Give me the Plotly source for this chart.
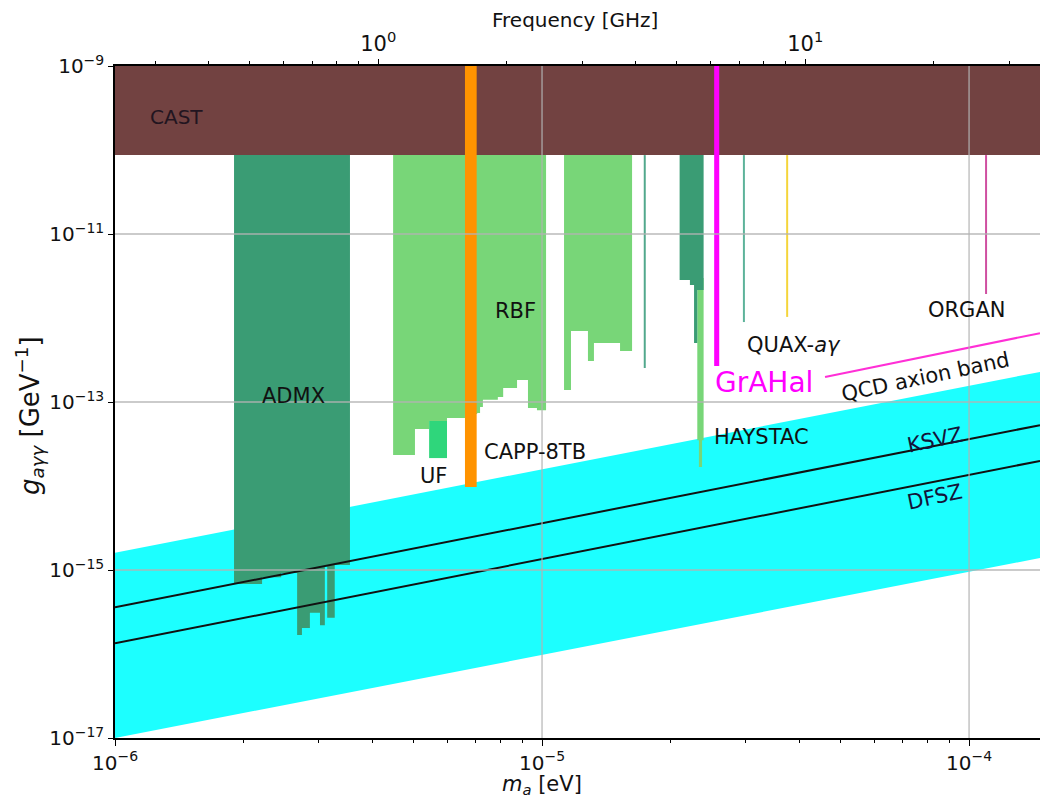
import numpy as np
import plotly.graph_objects as go

# ---------------- data ----------------
# axis ranges
m_min, m_max = 1e-6, 1.466e-4           # eV
g_min, g_max = 1e-17, 1e-9              # GeV^-1
ev_to_ghz = 2.418e5                      # f[GHz] = m[eV] * 2.418e5

# CAST limit
cast_g = 8.7e-11

# QCD axion band edges and model lines (straight in log-log)
band_m = [1e-6, 1.466e-4]
band_upper = [1.6e-15, 2.28e-13]
band_lower = [1.0e-17, 1.39e-15]
ksvz_g = [3.6e-16, 5.3e-14]
dfsz_g = [1.34e-16, 1.99e-14]

# ADMX (step limit)
admx_edges = [1.90e-6, 2.21e-6, 2.45e-6, 2.67e-6, 2.74e-6, 2.86e-6, 3.02e-6,
              3.10e-6, 3.14e-6, 3.27e-6, 3.55e-6]
admx_g = [6.8e-16, 8.2e-16, 9.2e-16, 1.68e-16, 2.04e-16, 3.1e-16, 2.2e-16,
          1.1e-15, 2.7e-16, 1.15e-15]

# RBF (two blocks)
rbf1_edges = [4.48e-6, 5.04e-6, 5.44e-6, 5.99e-6, 6.60e-6, 7.05e-6, 7.16e-6,
              7.27e-6, 7.88e-6, 8.11e-6, 8.74e-6, 9.27e-6, 9.73e-6, 1.022e-5]
rbf1_g = [2.34e-14, 4.77e-14, 5.94e-14, 6.45e-14, 7.2e-14, 7.4e-14, 8.7e-14,
          1.06e-13, 1.15e-13, 1.47e-13, 1.83e-13, 8.5e-14, 8.0e-14]
rbf2_edges = [1.126e-5, 1.169e-5, 1.281e-5, 1.323e-5, 1.523e-5, 1.625e-5]
rbf2_g = [1.39e-13, 7.0e-13, 3.08e-13, 5.04e-13, 4.05e-13]

# UF
uf_m = [5.44e-6, 5.99e-6]
uf_top, uf_bottom = 5.94e-14, 2.15e-14

# CAPP-8TB
capp_m = [6.60e-6, 7.03e-6]
capp_g = 9.7e-15

# HAYSTAC
hay_dark_edges = [2.10e-5, 2.22e-5, 2.27e-5, 2.31e-5, 2.39e-5]
hay_dark_g = [2.83e-12, 2.47e-12, 5.04e-13, 2.15e-12]
hay_light_edges = [2.31e-5, 2.33e-5, 2.37e-5, 2.39e-5]
hay_light_g = [3.5e-14, 1.68e-14, 3.5e-14]

# GrAHal
grahal_m = [2.53e-5, 2.60e-5]
grahal_g = 2.68e-13
grahal_link_m = [4.60e-5, 1.466e-4]
grahal_link_g = [1.99e-13, 6.6e-13]

# thin single-mass exclusions: (mass, lowest g, colour)
thin_m = [1.74e-5, 2.97e-5, 3.75e-5, 1.096e-4]
thin_g = [2.54e-13, 8.95e-13, 1.03e-12, 1.93e-12]
thin_col = ["#52A88C", "#5DB39A", "#F5D53A", "#CF4FA0"]

# ticks
x_ticks = [1e-6, 1e-5, 1e-4]
x_ticktext = ["10<sup>\u22126</sup>", "10<sup>\u22125</sup>", "10<sup>\u22124</sup>"]
y_ticks = [1e-17, 1e-15, 1e-13, 1e-11, 1e-9]
y_ticktext = ["10<sup>\u221217</sup>", "10<sup>\u221215</sup>", "10<sup>\u221213</sup>",
              "10<sup>\u221211</sup>", "10<sup>\u22129</sup>"]
f_ticks = [1, 10]
f_ticktext = ["10<sup>0</sup>", "10<sup>1</sup>"]

# colours
C_CAST = "#724241"
C_ADMX = "#3A9C74"
C_RBF = "#78D678"
C_UF = "#2FD67B"
C_CAPP = "#FF9300"
C_CYAN = "#1CFFFF"
C_MAG = "#FF00FF"
C_GRID = "#B3B3B3"
FONT = "DejaVu Sans"

# ---------------- helpers ----------------
def step_poly(edges, bottoms, top):
    xs, ys = [edges[0]], [top]
    for i, b in enumerate(bottoms):
        xs += [edges[i], edges[i + 1]]
        ys += [b, b]
    xs += [edges[-1], edges[0]]
    ys += [top, top]
    return xs, ys


def fill(fig, xs, ys, color):
    fig.add_trace(go.Scatter(x=xs, y=ys, mode="lines", fill="toself",
                             fillcolor=color, line=dict(width=0, color=color),
                             hoverinfo="skip", showlegend=False))


fig = go.Figure()

# QCD band
fill(fig, band_m + band_m[::-1], band_upper + band_lower[::-1], C_CYAN)

# CAST
fill(fig, [m_min, m_max * 1.05, m_max * 1.05, m_min], [g_max, g_max, cast_g, cast_g], C_CAST)

# RBF blocks
fill(fig, *step_poly(rbf1_edges, rbf1_g, cast_g), C_RBF)
fill(fig, *step_poly(rbf2_edges, rbf2_g, cast_g), C_RBF)
# UF
fill(fig, *step_poly(uf_m, [uf_bottom], uf_top), C_UF)
# HAYSTAC light spike then dark block
fill(fig, *step_poly(hay_light_edges, hay_light_g, 3e-12), C_RBF)
fill(fig, *step_poly(hay_dark_edges, hay_dark_g, cast_g), C_ADMX)
# ADMX
fill(fig, *step_poly(admx_edges, admx_g, cast_g), C_ADMX)
# CAPP-8TB
fill(fig, *step_poly(capp_m, [capp_g], g_max), C_CAPP)
# GrAHal
fill(fig, *step_poly(grahal_m, [grahal_g], g_max), C_MAG)

# thin lines
for m, g, c in zip(thin_m, thin_g, thin_col):
    fig.add_trace(go.Scatter(x=[m, m], y=[g, cast_g], mode="lines",
                             line=dict(color=c, width=2), hoverinfo="skip",
                             showlegend=False))

# model lines
for gl in (ksvz_g, dfsz_g):
    fig.add_trace(go.Scatter(x=band_m, y=gl, mode="lines",
                             line=dict(color="#111111", width=2),
                             hoverinfo="skip", showlegend=False))

# GrAHal link line
fig.add_trace(go.Scatter(x=grahal_link_m, y=grahal_link_g, mode="lines",
                         line=dict(color="#FF2FD6", width=2), hoverinfo="skip",
                         showlegend=False))

# grid lines (drawn on top, as in the reference)
for xv in x_ticks[1:]:
    fig.add_trace(go.Scatter(x=[xv, xv], y=[g_min, g_max], mode="lines",
                             line=dict(color=C_GRID, width=1.3), hoverinfo="skip",
                             showlegend=False, opacity=0.9))
for yv in y_ticks[1:-1]:
    fig.add_trace(go.Scatter(x=[m_min, m_max], y=[yv, yv], mode="lines",
                             line=dict(color=C_GRID, width=1.3), hoverinfo="skip",
                             showlegend=False, opacity=0.9))

# invisible trace for the top frequency axis
fig.add_trace(go.Scatter(x=[m_min * ev_to_ghz, m_max * ev_to_ghz], y=[g_min, g_min],
                         xaxis="x2", mode="markers", marker=dict(opacity=0),
                         hoverinfo="skip", showlegend=False))

# ---------------- labels ----------------
def lab(text, m, g, size=21, color="#111111", xanchor="center", angle=0):
    fig.add_annotation(x=np.log10(m), y=np.log10(g), xref="x", yref="y",
                       text=text, showarrow=False, xanchor=xanchor, yanchor="middle",
                       textangle=angle, font=dict(family=FONT, size=size, color=color))

lab("CAST", 10**-5.857, 10**-9.607, size=20, color="#221520")
lab("ADMX", 10**-5.581, 10**-12.929)
lab("RBF", 10**-5.063, 10**-11.917)
lab("UF", 10**-5.255, 10**-13.881)
lab("CAPP-8TB", 10**-5.1405, 10**-13.595, xanchor="left")
lab("HAYSTAC", 10**-4.602, 10**-13.417, xanchor="left")
lab("QUAX-<i>a\u03b3</i>", 10**-4.525, 10**-12.321, xanchor="left")
lab("ORGAN", 10**-4.005, 10**-11.905)
lab("GrAHal", 10**-4.600, 10**-12.762, size=28, color=C_MAG, xanchor="left")
lab("QCD axion band", 10**-4.103, 10**-12.70, angle=-12)
lab("KSVZ", 10**-4.080, 10**-13.452, angle=-12, color="#14143a")
lab("DFSZ", 10**-4.080, 10**-14.131, angle=-12, color="#14143a")

# axis titles
fig.add_annotation(xref="paper", yref="paper", x=0.4616, y=-0.070,
                   text="<i>m</i><sub><i>a</i></sub> [eV]", showarrow=False,
                   xanchor="center", yanchor="middle", font=dict(size=21))
fig.add_annotation(xref="paper", yref="paper", x=0.497, y=1.0685,
                   text="Frequency [GHz]", showarrow=False,
                   xanchor="center", yanchor="middle", font=dict(size=20))
fig.add_annotation(xref="paper", yref="paper", x=-0.0919, y=0.4807,
                   text="<i>g</i><sub><i>a\u03b3\u03b3</i></sub> [GeV<sup>\u22121</sup>]",
                   showarrow=False, textangle=-90,
                   xanchor="center", yanchor="middle", font=dict(size=26))

minor_x = [k * 10.0**e for e in (-6, -5) for k in range(2, 10)]
minor_f = [k * 10.0**e for e in (-1, 0, 1) for k in range(2, 10)]

fig.update_layout(
    width=1040, height=802, autosize=False,
    margin=dict(l=115, r=0, t=66, b=64),
    paper_bgcolor="white", plot_bgcolor="white",
    font=dict(family=FONT, color="#111111"),
    showlegend=False,
    xaxis=dict(type="log", range=[np.log10(m_min), np.log10(m_max)],
               tickmode="array", tickvals=x_ticks, ticktext=x_ticktext,
               tickfont=dict(size=20), showgrid=False, zeroline=False,
               showline=True, linecolor="black", linewidth=1.5,
               ticks="outside", ticklen=6, tickcolor="black",
               minor=dict(tickmode="array", tickvals=minor_x, ticks="outside",
                          ticklen=3.5, tickcolor="black", showgrid=False)),
    xaxis2=dict(type="log", overlaying="x", side="top",
                range=[np.log10(m_min * ev_to_ghz), np.log10(m_max * ev_to_ghz)],
                tickmode="array", tickvals=f_ticks, ticktext=f_ticktext,
                tickfont=dict(size=21), showgrid=False, zeroline=False,
                showline=True, linecolor="black", linewidth=1.5,
                ticks="outside", ticklen=5, tickcolor="black",
                minor=dict(tickmode="array", tickvals=minor_f, ticks="outside",
                           ticklen=3, tickcolor="black", showgrid=False)),
    yaxis=dict(type="log", range=[np.log10(g_min), np.log10(g_max)],
               tickmode="array", tickvals=y_ticks, ticktext=y_ticktext,
               tickfont=dict(size=20), showgrid=False, zeroline=False,
               showline=True, linecolor="black", linewidth=1.5,
               ticks="outside", ticklen=5, tickcolor="black"),
)

fig.write_html(
    "out.html",
    config={"responsive": False, "displayModeBar": False},
    post_script=("document.body.style.margin='0px';"
                 "document.body.style.overflow='hidden';"
                 "Plotly.relayout(document.getElementById('{plot_id}'),"
                 "{width:1040,height:802});"),
)
